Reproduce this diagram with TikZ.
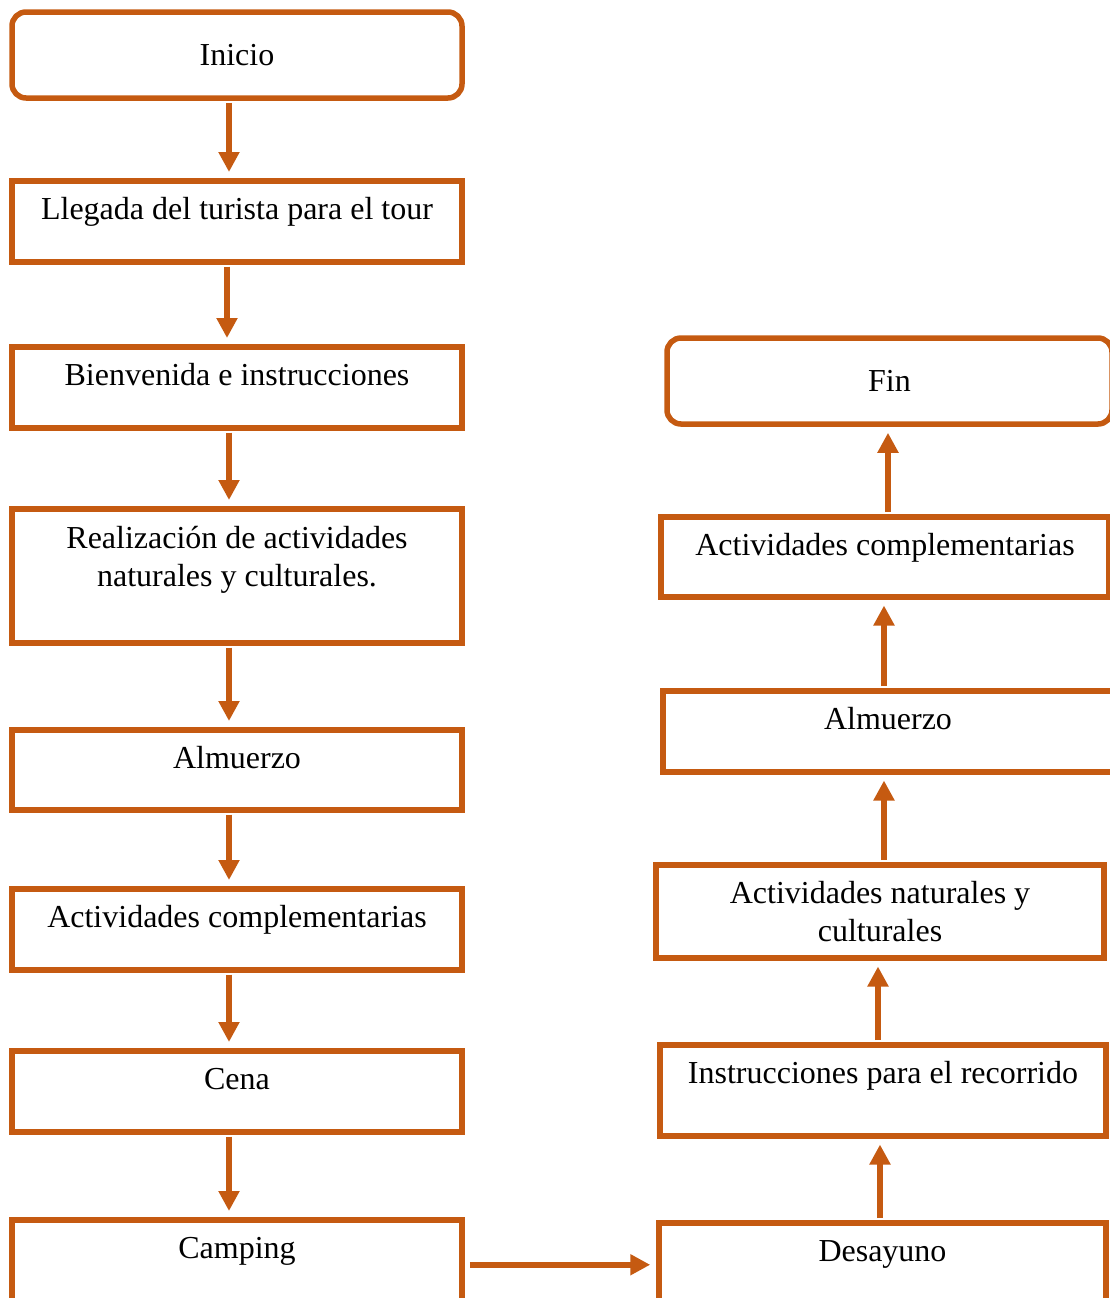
\documentclass[tikz,border=0pt]{standalone}
\usepackage{fontspec}
\setmainfont{Liberation Serif}
\usetikzlibrary{arrows.meta}
\definecolor{tourorange}{HTML}{C55A11}
\tikzset{
    stepbox/.style={draw=tourorange, line width=2.75pt, anchor=north, inner sep=0pt,
        minimum width=225pt, text height=19.5pt, text depth=#1, align=center},
    endbox/.style={draw=tourorange, line width=2.75pt, rounded corners=7pt, inner sep=0pt,
        minimum width=225pt, minimum height=43pt, align=center},
    flow/.style={->, draw=tourorange, line width=2.75pt, shorten >=3pt, shorten <=1pt}
}
\begin{document}
\begin{tikzpicture}[x=0.5pt, y=-0.5pt, >={Triangle[length=10pt,width=10pt]},
    font=\fontsize{16}{19}\selectfont]
    \useasboundingbox (0,0) rectangle (1110,1298);

    \node[endbox] (inicio) at (237,55) {Inicio};
    \node[stepbox=21pt] (llegada) at (237,178) {Llegada del turista para el tour};
    \node[stepbox=21pt] (bienvenida) at (237,344) {Bienvenida e instrucciones};
    \node[stepbox=28pt, text height=39pt] (realizacion) at (237,506) {Realización de actividades\\naturales y culturales.};
    \node[stepbox=20.5pt] (almuerzo) at (237,727) {Almuerzo};
    \node[stepbox=21pt] (complem) at (237,886) {Actividades complementarias};
    \node[stepbox=21pt] (cena) at (237,1048) {Cena};
    \node[stepbox=25.5pt] (camping) at (237,1217) {Camping};

    \node[stepbox=22.5pt, minimum width=223.5pt] (desayuno) at (882.5,1220) {Desayuno};
    \node[stepbox=26pt, minimum width=223pt] (instrucciones) at (883,1042) {Instrucciones para el recorrido};
    \node[stepbox=8pt, text height=38.5pt, minimum width=224pt] (naturales) at (880,862) {Actividades naturales y\\culturales};
    \node[stepbox=21pt] (almuerzob) at (888,688) {Almuerzo};
    \node[stepbox=20.5pt, minimum width=224pt] (complemb) at (885,514) {Actividades complementarias};
    \node[endbox, minimum width=222.5pt] (fin) at (889.5,381) {Fin};

    \draw[flow] ([xshift=-4pt]inicio.south) -- ([xshift=-4pt]llegada.north);
    \draw[flow] ([xshift=-5pt]llegada.south) -- ([xshift=-5pt]bienvenida.north);
    \draw[flow] ([xshift=-4pt]bienvenida.south) -- ([xshift=-4pt]realizacion.north);
    \draw[flow] ([xshift=-4pt]realizacion.south) -- ([xshift=-4pt]almuerzo.north);
    \draw[flow] ([xshift=-4pt]almuerzo.south) -- ([xshift=-4pt]complem.north);
    \draw[flow] ([xshift=-4pt]complem.south) -- ([xshift=-4pt]cena.north);
    \draw[flow] ([xshift=-4pt]cena.south) -- ([xshift=-4pt]camping.north);
    \draw[flow, shorten <=2.5pt] (camping.east) -- (desayuno.west);

    \draw[flow] ([xshift=-1.25pt]desayuno.north) -- ([xshift=-1.25pt]desayuno.north |- instrucciones.south);
    \draw[flow] ([xshift=-2.5pt]instrucciones.north) -- ([xshift=-2.5pt]instrucciones.north |- naturales.south);
    \draw[flow] ([xshift=2pt]naturales.north) -- ([xshift=2pt]naturales.north |- almuerzob.south);
    \draw[flow] ([xshift=-2pt]almuerzob.north) -- ([xshift=-2pt]almuerzob.north |- complemb.south);
    \draw[flow] ([xshift=1.5pt]complemb.north) -- ([xshift=1.5pt]complemb.north |- fin.south);
\end{tikzpicture}
\end{document}
